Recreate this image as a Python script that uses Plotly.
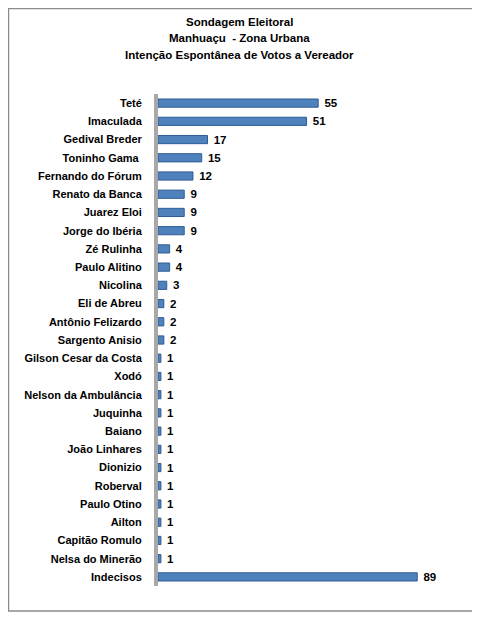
import plotly.graph_objects as go

candidates = ["Teté", "Imaculada", "Gedival Breder", "Toninho Gama ", "Fernando do Fórum",
              "Renato da Banca", "Juarez Eloi", "Jorge do Ibéria", "Zé Rulinha", "Paulo Alitino",
              "Nicolina", "Eli de Abreu", "Antônio Felizardo", "Sargento Anisio",
              "Gilson Cesar da Costa", "Xodó", "Nelson da Ambulância", "Juquinha", "Baiano",
              "João Linhares", "Dionizio", "Roberval", "Paulo Otino", "Ailton",
              "Capitão Romulo", "Nelsa do Minerão", "Indecisos"]
votes = [55, 51, 17, 15, 12, 9, 9, 9, 4, 4, 3, 2, 2, 2, 1, 1, 1, 1, 1, 1, 1, 1, 1, 1, 1, 1, 89]
title_lines = ["Sondagem Eleitoral", "Manhuaçu  - Zona Urbana",
               "Intenção Espontânea de Votos a Vereador"]

font_family = "Liberation Sans, Arial, sans-serif"

W, H = 472, 611
L, R, T, B = 150, 22, 86, 33
pw, ph = W - L - R, H - T - B

fig = go.Figure()
fig.add_trace(go.Bar(
    y=candidates, x=votes, orientation="h",
    width=0.45,
    marker=dict(color="#4F81BD", line=dict(color="#2E5C94", width=1)),
    texttemplate="\u00a0%{x}", textposition="outside",
    constraintext="none",
    textfont=dict(family=font_family, size=11.5, color="black", weight="bold"),
    cliponaxis=False,
))

fig.update_layout(
    width=W, height=H,
    margin=dict(l=L, r=R, t=T, b=B, autoexpand=False),
    paper_bgcolor="white", plot_bgcolor="white",
    showlegend=False,
    xaxis=dict(range=[0, 103], visible=False, showgrid=False, zeroline=False),
    yaxis=dict(autorange="reversed", showgrid=False, zeroline=False,
               showline=True, linecolor="#A8A8A8", linewidth=4,
               ticks="", ticklabelstandoff=10, automargin=False,
               tickfont=dict(family=font_family, size=11, color="black", weight="bold")),
)

# title lines
title_y = [14, 30, 47]
for line, yy in zip(title_lines, title_y):
    fig.add_annotation(text="<b>" + line + "</b>", xref="paper", yref="paper",
                       x=(231 - L) / pw, y=(H - B - yy) / ph,
                       xanchor="center", yanchor="middle", showarrow=False,
                       font=dict(family=font_family, size=11.5, color="black"))

# outer chart border
fig.add_shape(type="rect", xref="paper", yref="paper",
              x0=(0.5 - L) / pw, x1=(465 - L) / pw,
              y0=(H - B - 603) / ph, y1=(H - B - 0.5) / ph,
              line=dict(color="#8C8C8C", width=1.5), fillcolor="rgba(0,0,0,0)", layer="below")

fig.write_html("out.html")
